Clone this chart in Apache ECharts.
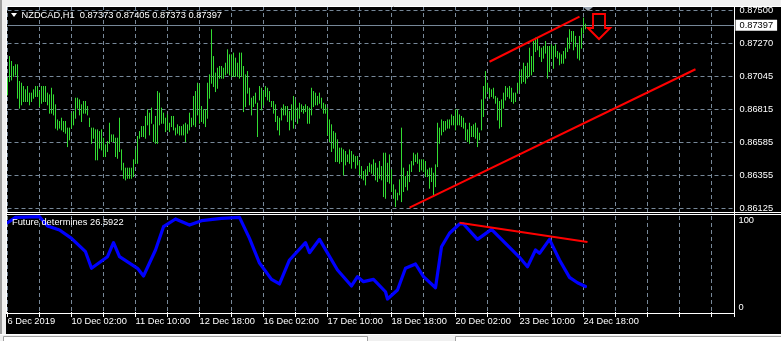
<!DOCTYPE html>
<html><head><meta charset="utf-8">
<script src="https://cdn.jsdelivr.net/npm/echarts@6/dist/echarts.min.js"></script>
<style>html,body{margin:0;padding:0;background:#000;overflow:hidden}#c{width:781px;height:341px}</style>
</head><body><div id="c"></div>
<script>
// ---------- data ----------
const symbolName = 'NZDCAD,H1';
const lastBarOHLC = ['0.87373', '0.87405', '0.87373', '0.87397'];
const bidPrice = 0.87397;
const xTickLabels = ['6 Dec 2019', '10 Dec 02:00', '11 Dec 10:00', '12 Dec 18:00', '16 Dec 02:00',
  '17 Dec 10:00', '18 Dec 18:00', '20 Dec 02:00', '23 Dec 10:00', '24 Dec 18:00'];
const yTickLabels = ['0.87500', '0.87270', '0.87045', '0.86815', '0.86585', '0.86355', '0.86125'];
const indTickLabels = ['100', '0'];

const barHigh = [
0.87030,0.87180,0.87146,0.87111,0.87123,0.87123,0.87007,0.86995,0.86972,0.86949,
0.86972,0.86926,0.86926,0.86949,0.86972,0.86972,0.86937,0.86972,0.86972,0.86972,
0.86926,0.86914,0.86960,0.86914,0.86845,0.86740,0.86729,0.86752,0.86729,0.86729,
0.86683,0.86683,0.86787,0.86798,0.86891,0.86891,0.86879,0.86845,0.86868,0.86868,
0.86833,0.86752,0.86683,0.86683,0.86671,0.86671,0.86659,0.86671,0.86613,0.86567,
0.86590,0.86717,0.86636,0.86636,0.86613,0.86613,0.86752,0.86532,0.86439,0.86405,
0.86405,0.86405,0.86405,0.86463,0.86532,0.86625,0.86659,0.86694,0.86694,0.86764,
0.86810,0.86787,
0.86822,0.86706,0.86764,0.86937,0.86926,0.86822,0.86787,0.86752,0.86775,0.86717,
0.86764,0.86764,0.86683,0.86706,0.86694,0.86694,0.86706,0.86717,0.86706,0.86787,
0.86752,0.86903,0.86937,0.86995,0.86984,0.86833,0.86810,0.86810,0.86995,0.87053,
0.87366,0.87180,0.87065,0.87099,0.87111,0.87111,0.87099,0.87134,0.87227,0.87192,
0.87192,0.87204,0.87169,0.87134,0.87204,0.87204,0.87111,0.87053,0.87076,0.86960,
0.86891,0.86903,0.86926,0.86856,0.86972,0.86960,0.86937,0.86972,0.86960,0.86937,
0.86868,0.86868,0.86845,0.86764,0.86752,0.86822,0.86845,0.86833,0.86833,0.86798,
0.86845,0.86903,
0.86879,0.86822,0.86856,0.86845,0.86833,0.86845,0.86833,0.86822,0.86960,0.86937,
0.86926,0.86903,0.86926,0.86891,0.86856,0.86845,0.86822,0.86740,0.86706,0.86659,
0.86648,0.86602,0.86544,0.86544,0.86532,0.86521,0.86497,0.86532,0.86521,0.86497,
0.86486,0.86486,0.86451,0.86416,0.86382,0.86393,0.86416,0.86439,0.86428,0.86463,
0.86439,0.86405,0.86451,0.86416,0.86509,0.86509,0.86439,0.86497,0.86393,0.86289,
0.86254,0.86231,0.86324,0.86683,0.86405,0.86347,0.86382,0.86428,0.86451,0.86509,
0.86497,0.86509,0.86463,0.86463,0.86463,0.86451,0.86393,0.86405,0.86405,0.86370,
0.86428,0.86717,
0.86683,0.86740,0.86729,0.86729,0.86740,0.86740,0.86775,0.86764,0.86810,0.86810,
0.86775,0.86764,0.86752,0.86717,0.86671,0.86717,0.86694,0.86706,0.86717,0.86683,
0.86648,0.86879,0.86972,0.87076,0.86995,0.86960,0.86949,0.86960,0.86903,0.86891,
0.86868,0.86879,0.86926,0.86972,0.86960,0.86972,0.86960,0.86926,0.86926,0.86995,
0.87076,0.87088,0.87134,0.87111,0.87134,0.87238,0.87180,0.87285,0.87308,0.87308,
0.87250,0.87238,0.87250,0.87285,0.87250,0.87250,0.87262,0.87250,0.87262,0.87215,
0.87204,0.87192,0.87215,0.87238,0.87308,0.87366,0.87354,0.87354,0.87320,0.87262,
0.87320,0.87377,0.87447,0.87405];

const barLow = [
0.86914,0.87007,0.87018,0.87042,0.87053,0.86891,0.86822,0.86845,0.86868,0.86868,
0.86868,0.86845,0.86868,0.86891,0.86903,0.86903,0.86833,0.86856,0.86868,0.86868,
0.86845,0.86787,0.86787,0.86775,0.86683,0.86671,0.86683,0.86671,0.86659,0.86648,
0.86555,0.86602,0.86683,0.86706,0.86752,0.86822,0.86775,0.86729,0.86787,0.86787,
0.86775,0.86694,0.86578,0.86613,0.86463,0.86463,0.86544,0.86532,0.86486,0.86486,
0.86521,0.86578,0.86590,0.86590,0.86486,0.86474,0.86521,0.86393,0.86335,0.86324,
0.86335,0.86335,0.86335,0.86347,0.86439,0.86439,0.86613,0.86625,0.86625,0.86613,
0.86706,0.86636,
0.86717,0.86590,0.86578,0.86578,0.86706,0.86717,0.86717,0.86659,0.86671,0.86659,
0.86694,0.86671,0.86636,0.86648,0.86636,0.86636,0.86636,0.86590,0.86648,0.86671,
0.86694,0.86706,0.86694,0.86775,0.86717,0.86729,0.86717,0.86694,0.86752,0.86891,
0.86995,0.86972,0.86937,0.86960,0.87030,0.87030,0.87030,0.87053,0.87065,0.87053,
0.87042,0.87042,0.87042,0.87042,0.87030,0.87042,0.86798,0.86833,0.86926,0.86845,
0.86775,0.86833,0.86856,0.86625,0.86879,0.86810,0.86845,0.86903,0.86879,0.86868,
0.86833,0.86787,0.86729,0.86671,0.86636,0.86740,0.86775,0.86775,0.86729,0.86671,
0.86740,0.86683,
0.86752,0.86717,0.86752,0.86798,0.86787,0.86798,0.86717,0.86717,0.86775,0.86833,
0.86845,0.86845,0.86856,0.86822,0.86787,0.86787,0.86636,0.86590,0.86521,0.86544,
0.86451,0.86451,0.86439,0.86451,0.86358,0.86428,0.86451,0.86439,0.86405,0.86451,
0.86405,0.86428,0.86358,0.86335,0.86324,0.86289,0.86358,0.86382,0.86370,0.86358,
0.86324,0.86312,0.86335,0.86324,0.86208,0.86196,0.86312,0.86301,0.86243,0.86196,
0.86139,0.86185,0.86220,0.86173,0.86243,0.86277,0.86254,0.86312,0.86382,0.86428,
0.86451,0.86439,0.86382,0.86393,0.86382,0.86347,0.86347,0.86266,0.86312,0.86220,
0.86277,0.86416,
0.86578,0.86636,0.86659,0.86671,0.86683,0.86683,0.86706,0.86706,0.86671,0.86706,
0.86706,0.86694,0.86683,0.86602,0.86590,0.86578,0.86625,0.86625,0.86613,0.86555,
0.86602,0.86671,0.86764,0.86891,0.86937,0.86891,0.86903,0.86891,0.86856,0.86740,
0.86683,0.86694,0.86822,0.86879,0.86903,0.86891,0.86868,0.86856,0.86868,0.86926,
0.86949,0.86995,0.87007,0.86995,0.87030,0.87042,0.87053,0.87076,0.87215,0.87227,
0.87180,0.87146,0.87169,0.87204,0.87030,0.87076,0.87169,0.87099,0.87180,0.87169,
0.87123,0.87134,0.87134,0.87169,0.87215,0.87238,0.87285,0.87227,0.87250,0.87169,
0.87157,0.87238,0.87343,0.87373];

const indicatorName = 'Future determines';
const indicatorLast = '26.5922';
const indicatorPoints = [
[0,93],[4,98.6],[16,99.3],[20,89.6],[26,85.4],[32,76.7],[39,62.8],[42,45.5],[50,57.6],[53,72.2],
[56,57.6],[65,45.5],[68,37.5],[74,64.6],[78,88.9],[84,96.9],[91,90.6],[97,95.1],[107,97.6],[116,98.6],
[121,76.7],[126,51],[132,34],[136,29.2],[141,54.2],[149,72.2],[151,61.8],[156,75.7],[165,43.8],[172,27.1],
[175,36.8],[178,31.6],[183,34],[189,21.1],[190,13.5],[195,22.9],[199,45.5],[204,50],[208,36.8],[214,25.3],
[217,68],[221,82],[226,91.7],[228,91.7],[235,75.7],[242,86.1],[256,57],[260,47.2],[264,64.6],[266,61.1],
[271,75.7],[276,54.2],[281,36.1],[285,30.5],[289,26.59]];

const trendMainLower = [[201, 0.86131], [344, 0.87092]];
const trendMainUpper = [[241, 0.87144], [286, 0.87457]];
const trendIndicator = [[226, 93.0], [290, 72.9]];
const sellArrowAt = [295.75, 0.87389];

// ---------- chart ----------
const FONT = 'Liberation Sans';
const FS = 9.3;
const GRIDC = '#778899';
const GREEN = '#32dc32';
const gridLineStyle = {color: GRIDC, type: [4, 3], width: 1};

const yTop = parseFloat(yTickLabels[0]);
const yBot = parseFloat(yTickLabels[yTickLabels.length - 1]);
const yStep = (yTop - yBot) / (yTickLabels.length - 1);
const priceGrid = yTickLabels.map((t, k) => ({name: t, yAxis: yTop - k * yStep}));
const bars = barHigh.map((h, i) => [i, barLow[i], h]);

const chart = echarts.init(document.getElementById('c'), null, {renderer: 'canvas', width: 781, height: 341});

const xBase = {type: 'value', min: 0, max: 363.5, interval: 16,
  axisLine: {show: false}, splitLine: {show: true, lineStyle: gridLineStyle}};

const option = {
  backgroundColor: '#000',
  animation: false,
  grid: [
    {left: 7.5, width: 727, top: 6, height: 207},
    {left: 7.5, width: 727, top: 216, height: 96}
  ],
  xAxis: [
    Object.assign({gridIndex: 0, axisTick: {show: false}, axisLabel: {show: false}}, xBase),
    Object.assign({gridIndex: 1,
      axisTick: {show: true, length: 5, lineStyle: {color: '#fff'}},
      axisLabel: {show: true, align: 'left', margin: 5, color: '#fff', fontSize: FS, fontFamily: FONT,
        formatter: v => (v % 32 === 0 && xTickLabels[v / 32]) ? xTickLabels[v / 32] : ''}}, xBase)
  ],
  yAxis: [
    {gridIndex: 0, type: 'value', min: 0.8609375, max: 0.8753125, show: false},
    {gridIndex: 1, type: 'value', min: 0, max: 100, interval: 100, position: 'right',
      axisLine: {show: false}, axisTick: {show: false}, splitLine: {show: false},
      axisLabel: {margin: 4, color: '#fff', fontSize: FS, fontFamily: FONT, verticalAlign: 'top',
        formatter: v => v === 100 ? indTickLabels[0] : ''}},
    {gridIndex: 1, type: 'value', min: 0, max: 100, interval: 100, position: 'right',
      axisLine: {show: false}, axisTick: {show: false}, splitLine: {show: false},
      axisLabel: {margin: 4, color: '#fff', fontSize: FS, fontFamily: FONT, verticalAlign: 'bottom',
        formatter: v => v === 0 ? indTickLabels[1] : ''}}
  ],
  series: [
    { // price grid lines + labels
      type: 'line', xAxisIndex: 0, yAxisIndex: 0, data: [], silent: true,
      markLine: {z: 1, silent: true, symbol: 'none', animation: false, precision: 8,
        lineStyle: gridLineStyle,
        label: {show: true, position: 'end', distance: 5, formatter: '{b}', color: '#fff',
          fontSize: FS, fontFamily: FONT},
        emphasis: {disabled: true},
        data: priceGrid}
    },
    { // bid line
      type: 'line', xAxisIndex: 0, yAxisIndex: 0, data: [], silent: true,
      markLine: {z: 2, silent: true, symbol: 'none', animation: false, precision: 8,
        lineStyle: {color: GRIDC, type: 'solid', width: 1},
        label: {show: true, position: 'end', distance: 1, formatter: lastBarOHLC[3],
          color: '#000', backgroundColor: '#fff', padding: [1, 4, 0, 4], lineHeight: 10,
          fontSize: FS, fontFamily: FONT},
        emphasis: {disabled: true},
        data: [{yAxis: bidPrice}]}
    },
    { // bars (high-low)
      type: 'custom', xAxisIndex: 0, yAxisIndex: 0, z: 3, silent: true,
      encode: {x: 0, y: [1, 2]},
      data: bars,
      renderItem: (params, api) => {
        const i = api.value(0);
        const a = api.coord([i, api.value(1)]);
        const b = api.coord([i, api.value(2)]);
        return {type: 'line', shape: {x1: a[0], y1: a[1] + 0.5, x2: b[0], y2: b[1] - 0.5},
          style: {stroke: GREEN, lineWidth: 1}};
      }
    },
    { // trend lines + arrow in main window
      type: 'line', xAxisIndex: 0, yAxisIndex: 0, data: [], silent: true,
      markLine: {z: 5, silent: true, symbol: 'none', animation: false, precision: 8,
        lineStyle: {color: '#ff0000', type: 'solid', width: 2},
        label: {show: false}, emphasis: {disabled: true},
        data: [
          [{coord: trendMainLower[0]}, {coord: trendMainLower[1]}],
          [{coord: trendMainUpper[0]}, {coord: trendMainUpper[1]}]
        ]},
      markPoint: {z: 5, silent: true, animation: false, label: {show: false},
        data: [{coord: sellArrowAt, symbol: 'path://M5,0L17,0L17,14L22,14L11,25L0,14L5,14Z',
          symbolSize: [22, 25],
          itemStyle: {color: 'rgba(0,0,0,0)', borderColor: '#ff0000', borderWidth: 2}}]}
    },
    { // indicator
      type: 'line', xAxisIndex: 1, yAxisIndex: 1, data: indicatorPoints, silent: true,
      showSymbol: false, clip: false, z: 3,
      lineStyle: {color: '#0000ff', width: 3.2, join: 'round', cap: 'round'},
      markLine: {z: 5, silent: true, symbol: 'none', animation: false, precision: 8,
        lineStyle: {color: '#ff0000', type: 'solid', width: 2},
        label: {show: false}, emphasis: {disabled: true},
        data: [[{coord: trendIndicator[0]}, {coord: trendIndicator[1]}]]}
    }
  ],
  graphic: [
    // window chrome
    {type: 'rect', shape: {x: 0, y: 0, width: 781, height: 6}, style: {fill: '#f0f0f0'}, z: 50},
    {type: 'rect', shape: {x: 0, y: 0, width: 6, height: 334}, style: {fill: '#f0f0f0'}, z: 50},
    {type: 'rect', shape: {x: 0, y: 0, width: 2, height: 334}, style: {fill: '#a0a0a0'}, z: 51},
    {type: 'rect', shape: {x: 0, y: 334, width: 781, height: 7}, style: {fill: '#f0f0f0'}, z: 50},
    {type: 'line', shape: {x1: 0, y1: 334.5, x2: 781, y2: 334.5}, style: {stroke: '#ffffff', lineWidth: 1}, z: 51},
    {type: 'rect', shape: {x: 3.5, y: 336.5, width: 364, height: 10}, style: {fill: '#ffffff', stroke: '#a0a0a0', lineWidth: 1}, z: 51},
    {type: 'rect', shape: {x: 455.5, y: 336.5, width: 330, height: 10}, style: {fill: '#ffffff', stroke: '#a0a0a0', lineWidth: 1}, z: 51},
    // frames
    {type: 'line', shape: {x1: 6, y1: 6.5, x2: 781, y2: 6.5}, style: {stroke: '#fff', lineWidth: 1}, z: 60},
    {type: 'line', shape: {x1: 6, y1: 212.5, x2: 781, y2: 212.5}, style: {stroke: '#fff', lineWidth: 1}, z: 60},
    {type: 'line', shape: {x1: 6, y1: 214.5, x2: 781, y2: 214.5}, style: {stroke: '#fff', lineWidth: 1}, z: 60},
    {type: 'line', shape: {x1: 6, y1: 313.5, x2: 735, y2: 313.5}, style: {stroke: '#fff', lineWidth: 1}, z: 60},
    {type: 'line', shape: {x1: 6.5, y1: 6, x2: 6.5, y2: 314}, style: {stroke: '#fff', lineWidth: 1}, z: 60},
    {type: 'line', shape: {x1: 734.5, y1: 6, x2: 734.5, y2: 314}, style: {stroke: '#fff', lineWidth: 1}, z: 60},
    // chart shift marker
    {type: 'polygon', shape: {points: [[583, 7], [593, 7], [588, 11]]}, style: {fill: '#98a2ae'}, z: 60},
    // title
    {type: 'polygon', shape: {points: [[11, 13], [17, 13], [14, 17]]}, style: {fill: '#fff'}, z: 60},
    {type: 'text', x: 21.5, y: 15, z: 60,
      style: {text: symbolName + '  ' + lastBarOHLC.join(' '), fill: '#fff',
        fontSize: FS, fontFamily: FONT, verticalAlign: 'middle', align: 'left'}},
    {type: 'text', x: 12, y: 222.7, z: 60,
      style: {text: indicatorName + ' ' + indicatorLast, fill: '#fff',
        fontSize: FS, fontFamily: FONT, verticalAlign: 'middle', align: 'left'}}
  ]
};
chart.setOption(option);
</script>
</body></html>
